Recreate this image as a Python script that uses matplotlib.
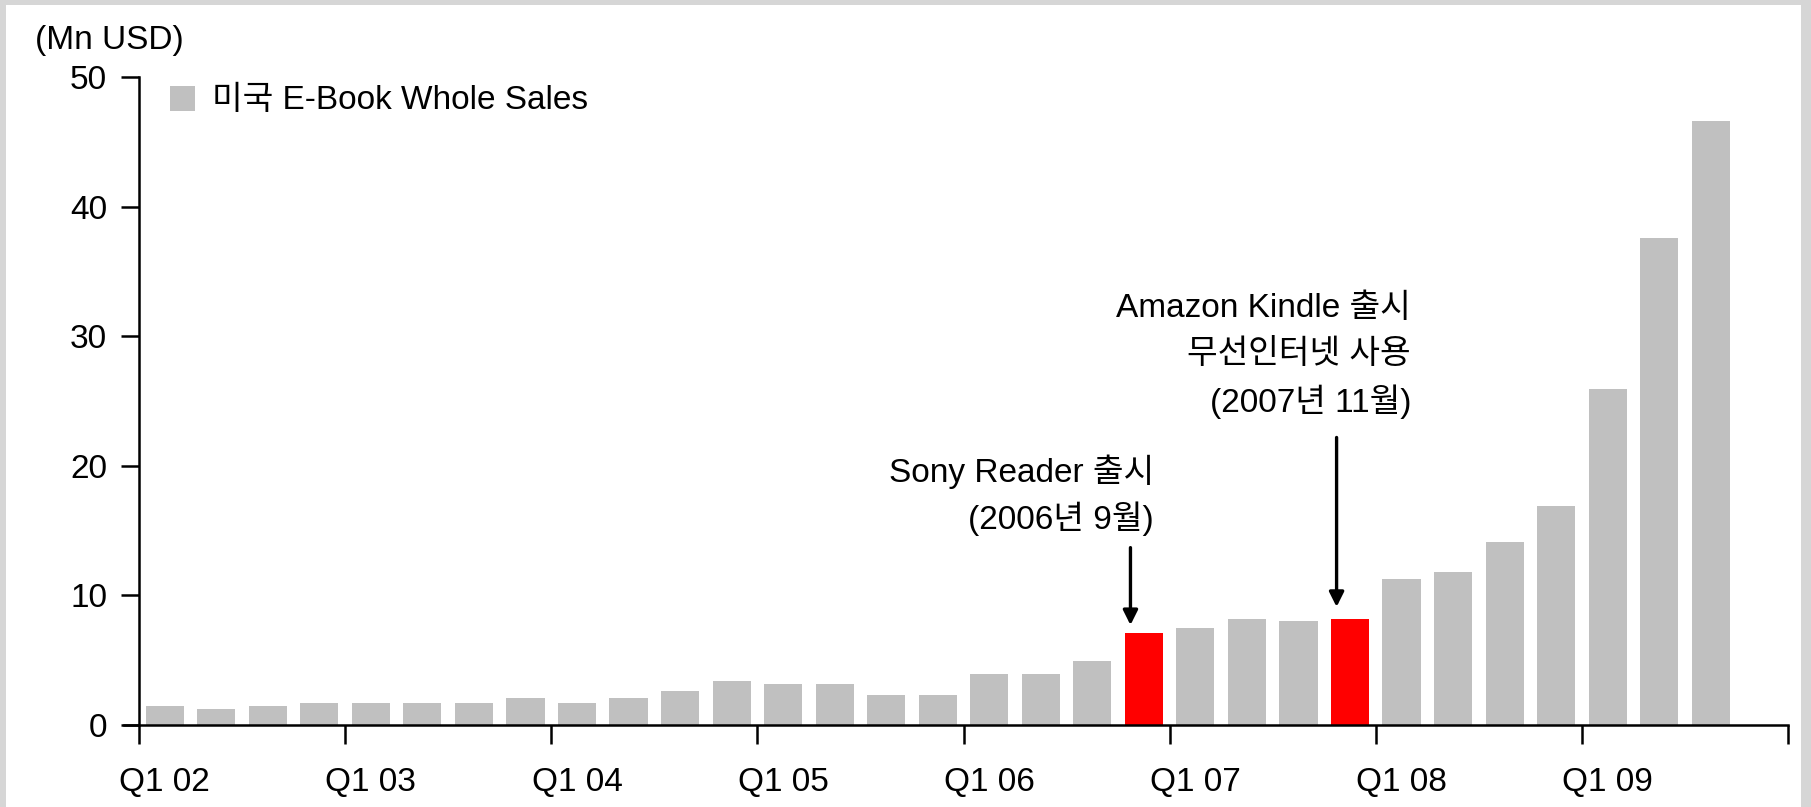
import matplotlib
matplotlib.use("Agg")
import matplotlib.pyplot as plt
from matplotlib.patches import Rectangle

plt.rcParams['font.family'] = ['Liberation Sans', 'Noto Sans CJK KR', 'DejaVu Sans']

# ---- data ----
sales = [1.5, 1.2, 1.5, 1.7,
         1.7, 1.7, 1.7, 2.1,
         1.7, 2.1, 2.65, 3.4,
         3.2, 3.2, 2.3, 2.3,
         3.95, 3.95, 4.9, 7.1,
         7.5, 8.2, 8.05, 8.2,
         11.3, 11.8, 14.1, 16.9,
         25.9, 37.6, 46.6]
highlight = [19, 23]
year_labels = ["Q1 02", "Q1 03", "Q1 04", "Q1 05", "Q1 06", "Q1 07", "Q1 08", "Q1 09"]
yticks = [0, 10, 20, 30, 40, 50]
legend_label = "미국 E-Book Whole Sales"
unit_label = "(Mn USD)"
ann1_lines = ["Sony Reader 출시", "(2006년 9월)"]
ann2_lines = ["Amazon Kindle 출시", "무선인터넷 사용", "(2007년 11월)"]

FS = 24
W, H = 1811, 807
fig = plt.figure(figsize=(W / 100, H / 100), dpi=100)
fig.patch.set_facecolor('#d6d6d6')
fig.patches.append(Rectangle((6 / W, 0), (W - 10) / W - 6 / W, (H - 5) / H,
                             transform=fig.transFigure, facecolor='white', edgecolor='none', zorder=-5))

x0, x1 = 139, 1788
y0, y1 = 725, 77
ax = fig.add_axes([x0 / W, 1 - y0 / H, (x1 - x0) / W, (y0 - y1) / H])
ax.set_facecolor('none')

colors = ['#ff0000' if i in highlight else '#c0c0c0' for i in range(len(sales))]
ax.bar(range(len(sales)), sales, width=0.74, color=colors, edgecolor='none', zorder=2)

ax.set_xlim(-0.5, 31.5)
ax.set_ylim(0, 50)

for s in ['top', 'right']:
    ax.spines[s].set_visible(False)
ax.spines['left'].set_linewidth(1.8)
ax.spines['bottom'].set_linewidth(1.8)
ax.spines['bottom'].set_bounds(-0.8, 31.5)

ax.set_yticks(yticks)
ax.tick_params(axis='y', direction='out', length=13, width=1.8, labelsize=FS, pad=10)
major = [i * 4 - 0.5 for i in range(9)]
ax.set_xticks(major)
ax.set_xticklabels([''] * len(major))
ax.tick_params(axis='x', which='major', direction='out', length=14, width=1.8)
ax.set_xticks([i * 4 for i in range(8)], minor=True)
ax.set_xticklabels(year_labels, minor=True)
ax.tick_params(axis='x', which='minor', length=0, labelsize=FS, pad=30)

fig.text(35 / W, 1 - 40 / H, unit_label, fontsize=FS, ha='left', va='center')

# legend
fig.patches.append(Rectangle((170 / W, 1 - 111 / H), 25 / W, 25 / H, transform=fig.transFigure,
                             facecolor='#c0c0c0', edgecolor='none'))
fig.text(212 / W, 1 - 101 / H, legend_label, fontsize=FS, ha='left', va='center')

# annotations
ax.annotate('', xy=(19 - 0.26, 7.5), xytext=(19 - 0.26, 13.9),
            arrowprops=dict(arrowstyle='-|>', color='black', lw=2.4, mutation_scale=22))
ax.annotate('', xy=(23 - 0.26, 8.9), xytext=(23 - 0.26, 22.4),
            arrowprops=dict(arrowstyle='-|>', color='black', lw=2.4, mutation_scale=22))
for line, yy in zip(ann1_lines, [472, 519]):
    fig.text(1154 / W, 1 - yy / H, line, fontsize=FS, ha='right', va='center')
for line, yy in zip(ann2_lines, [309, 355, 402]):
    fig.text(1411 / W, 1 - yy / H, line, fontsize=FS, ha='right', va='center')

fig.savefig('out.png', dpi=100)
